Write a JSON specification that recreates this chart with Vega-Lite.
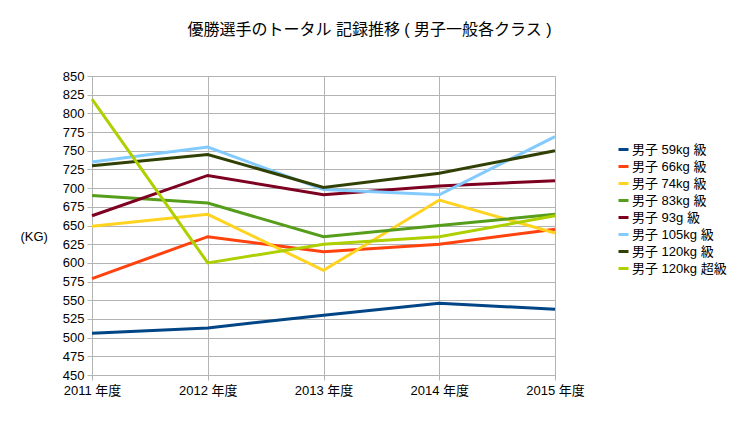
{
  "$schema": "https://vega.github.io/schema/vega-lite/v6.json",
  "autosize": "none",
  "width": 463,
  "height": 299,
  "padding": {"left": 92, "top": 76, "right": 185, "bottom": 49},
  "background": "white",
  "title": {
    "text": "優勝選手のトータル 記録推移 ( 男子一般各クラス )",
    "font": "Liberation Sans, Noto Sans CJK JP",
    "fontSize": 16,
    "fontWeight": "normal",
    "color": "black",
    "anchor": "middle",
    "dx": 46,
    "offset": 32
  },
  "config": {
    "view": {"stroke": null},
    "font": "Liberation Sans, Noto Sans CJK JP",
    "axis": {
      "labelFont": "Liberation Sans, Noto Sans CJK JP",
      "titleFont": "Liberation Sans, Noto Sans CJK JP",
      "labelFontSize": 13,
      "labelColor": "black",
      "gridColor": "#b3b3b3",
      "domainColor": "#b3b3b3",
      "tickColor": "#b3b3b3",
      "tickSize": 5
    },
    "legend": {
      "labelFont": "Liberation Sans, Noto Sans CJK JP",
      "labelFontSize": 13,
      "labelColor": "black"
    }
  },
  "data": {
    "values": [
      {"year": "2011 年度", "class": "男子 59kg 級", "total": 506},
      {"year": "2012 年度", "class": "男子 59kg 級", "total": 513},
      {"year": "2013 年度", "class": "男子 59kg 級", "total": 530},
      {"year": "2014 年度", "class": "男子 59kg 級", "total": 546},
      {"year": "2015 年度", "class": "男子 59kg 級", "total": 538},
      {"year": "2011 年度", "class": "男子 66kg 級", "total": 579},
      {"year": "2012 年度", "class": "男子 66kg 級", "total": 635},
      {"year": "2013 年度", "class": "男子 66kg 級", "total": 615},
      {"year": "2014 年度", "class": "男子 66kg 級", "total": 625},
      {"year": "2015 年度", "class": "男子 66kg 級", "total": 645},
      {"year": "2011 年度", "class": "男子 74kg 級", "total": 649},
      {"year": "2012 年度", "class": "男子 74kg 級", "total": 665},
      {"year": "2013 年度", "class": "男子 74kg 級", "total": 590},
      {"year": "2014 年度", "class": "男子 74kg 級", "total": 684},
      {"year": "2015 年度", "class": "男子 74kg 級", "total": 640},
      {"year": "2011 年度", "class": "男子 83kg 級", "total": 690},
      {"year": "2012 年度", "class": "男子 83kg 級", "total": 680},
      {"year": "2013 年度", "class": "男子 83kg 級", "total": 635},
      {"year": "2014 年度", "class": "男子 83kg 級", "total": 650},
      {"year": "2015 年度", "class": "男子 83kg 級", "total": 665},
      {"year": "2011 年度", "class": "男子 93g 級", "total": 663},
      {"year": "2012 年度", "class": "男子 93g 級", "total": 717},
      {"year": "2013 年度", "class": "男子 93g 級", "total": 691},
      {"year": "2014 年度", "class": "男子 93g 級", "total": 703},
      {"year": "2015 年度", "class": "男子 93g 級", "total": 710},
      {"year": "2011 年度", "class": "男子 105kg 級", "total": 735},
      {"year": "2012 年度", "class": "男子 105kg 級", "total": 755},
      {"year": "2013 年度", "class": "男子 105kg 級", "total": 698},
      {"year": "2014 年度", "class": "男子 105kg 級", "total": 691},
      {"year": "2015 年度", "class": "男子 105kg 級", "total": 769},
      {"year": "2011 年度", "class": "男子 120kg 級", "total": 730},
      {"year": "2012 年度", "class": "男子 120kg 級", "total": 745},
      {"year": "2013 年度", "class": "男子 120kg 級", "total": 701},
      {"year": "2014 年度", "class": "男子 120kg 級", "total": 720},
      {"year": "2015 年度", "class": "男子 120kg 級", "total": 750},
      {"year": "2011 年度", "class": "男子 120kg 超級", "total": 819},
      {"year": "2012 年度", "class": "男子 120kg 超級", "total": 600},
      {"year": "2013 年度", "class": "男子 120kg 超級", "total": 625},
      {"year": "2014 年度", "class": "男子 120kg 超級", "total": 635},
      {"year": "2015 年度", "class": "男子 120kg 超級", "total": 663}
    ]
  },
  "mark": {"type": "line", "strokeWidth": 3},
  "encoding": {
    "x": {
      "field": "year",
      "type": "ordinal",
      "scale": {"type": "point", "padding": 0},
      "axis": {
        "title": null,
        "labelAngle": 0,
        "grid": true,
        "labelPadding": 4
      }
    },
    "y": {
      "field": "total",
      "type": "quantitative",
      "scale": {"domain": [450, 850], "nice": false, "zero": false},
      "axis": {
        "values": [450, 475, 500, 525, 550, 575, 600, 625, 650, 675, 700, 725, 750, 775, 800, 825, 850],
        "title": "(KG)",
        "titleAngle": 0,
        "titleFontSize": 13,
        "titleFontWeight": "normal",
        "titleColor": "black",
        "titleAlign": "left",
        "titleBaseline": "middle",
        "titleX": -72,
        "titleY": 160,
        "labelPadding": 3
      }
    },
    "color": {
      "field": "class",
      "type": "nominal",
      "sort": null,
      "scale": {
        "domain": ["男子 59kg 級", "男子 66kg 級", "男子 74kg 級", "男子 83kg 級", "男子 93g 級", "男子 105kg 級", "男子 120kg 級", "男子 120kg 超級"],
        "range": ["#004586", "#ff420e", "#ffd320", "#579d1c", "#7e0021", "#83caff", "#314004", "#aecf00"]
      },
      "legend": {
        "title": null,
        "orient": "none",
        "legendX": 525,
        "legendY": 67,
        "symbolType": "stroke",
        "symbolSize": 100,
        "symbolStrokeWidth": 3,
        "labelOffset": 2,
        "rowPadding": 3
      }
    }
  }
}
